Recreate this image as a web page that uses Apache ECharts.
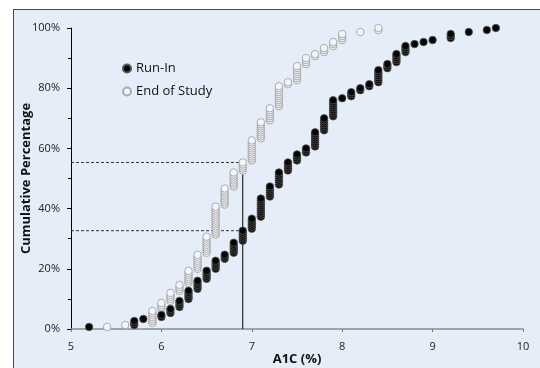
<!DOCTYPE html>
<html>
<head>
<meta charset="utf-8">
<script src="https://cdn.jsdelivr.net/npm/echarts@6/dist/echarts.min.js"></script>
<style>
  html, body { margin: 0; padding: 0; background: #fff; }
  #panel {
    position: absolute; left: 13px; top: 9px; width: 540px; height: 370px;
    background: #e5eef8; border-left: 1px solid #4a4a4a; border-top: 1px solid #4a4a4a;
  }
  #chart { position: absolute; left: 0; top: 0; width: 540px; height: 368px; }
</style>
</head>
<body>
<div id="panel"></div>
<div id="chart"></div>
<script>
// A1C 值与每个值上的人数
const runInA1c = [5.2, 5.7, 5.8, 6.0, 6.1, 6.2, 6.3, 6.4, 6.5, 6.6, 6.7, 6.8, 6.9, 7.0, 7.1, 7.2, 7.3, 7.4, 7.5, 7.6,
  7.7, 7.8, 7.9, 8.0, 8.1, 8.2, 8.3, 8.4, 8.5, 8.6, 8.7, 8.8, 8.9, 9.0, 9.2, 9.4, 9.6, 9.7]
const runInCount = [1, 3, 1, 2, 3, 4, 5, 5, 5, 5, 3, 6, 6, 6, 10, 6, 7, 5, 4, 3,
  8, 7, 9, 1, 3, 2, 2, 7, 3, 5, 4, 1, 1, 1, 3, 1, 1, 1]

const endA1c = [5.4, 5.6, 5.9, 6.0, 6.1, 6.2, 6.3, 6.4, 6.5, 6.6, 6.7, 6.8, 6.9, 7.0, 7.1, 7.2, 7.3, 7.4, 7.5, 7.6,
  7.7, 7.8, 7.9, 8.0, 8.2, 8.4]
const endCount = [1, 1, 7, 4, 5, 4, 7, 8, 9, 15, 9, 8, 5, 11, 9, 7, 11, 2, 8, 4,
  2, 3, 3, 4, 1, 2]

const seriesNames = ['Run-In', 'End of Study']
const cutoff = 6.9
const xTicks = [5, 6, 7, 8, 9, 10]
const yTicks = [0, 20, 40, 60, 80, 100]

// 累积百分比（经验分布）
const cumulative = (values, counts) => {
  const total = counts.reduce((a, b) => a + b, 0)
  const pts = []
  let rank = 0
  values.forEach((v, i) => {
    for (let k = 0; k < counts[i]; k++) {
      rank++
      pts.push([v, rank / total * 100])
    }
  })
  return pts
}
const pctAt = (pts, x) => {
  let p = 0
  pts.forEach(d => { if (d[0] <= x) p = Math.max(p, d[1]) })
  return p
}

const runInPts = cumulative(runInA1c, runInCount)
const endPts = cumulative(endA1c, endCount)
const runInCut = pctAt(runInPts, cutoff)
const endCut = pctAt(endPts, cutoff)

const font = '"Open Sans", "DejaVu Sans", sans-serif'
const chart = echarts.init(document.getElementById('chart'))

const option = {
  backgroundColor: 'transparent',
  animation: false,
  textStyle: { fontFamily: font },
  grid: { left: 71, right: 17, top: 28, bottom: 39, outerBoundsMode: 'none' },
  legend: {
    data: seriesNames,
    orient: 'vertical',
    left: 117,
    top: 57,
    itemWidth: 8,
    itemHeight: 8,
    itemGap: 10,
    textStyle: { fontFamily: font, fontSize: 13, color: '#111', padding: [0, 0, 0, 0] }
  },
  xAxis: {
    type: 'value',
    min: xTicks[0],
    max: xTicks[xTicks.length - 1],
    interval: 1,
    name: 'A1C (%)',
    nameLocation: 'middle',
    nameGap: 24,
    nameMoveOverlap: false,
    nameTextStyle: { fontFamily: font, fontSize: 13, fontWeight: 'bold', color: '#111' },
    splitLine: { show: false },
    axisLine: { lineStyle: { color: '#8a8a8a', width: 1.5 } },
    axisTick: { show: true, length: 3, lineStyle: { color: '#777' } },
    axisLabel: { margin: 12, fontSize: 11, color: '#222', fontFamily: font }
  },
  yAxis: {
    type: 'value',
    min: yTicks[0],
    max: yTicks[yTicks.length - 1],
    interval: 20,
    name: 'Cumulative Percentage',
    nameLocation: 'middle',
    nameGap: 38,
    nameMoveOverlap: false,
    nameTextStyle: { fontFamily: font, fontSize: 13, fontWeight: 'bold', color: '#111' },
    splitLine: { show: false },
    axisLine: { show: true, lineStyle: { color: '#000', width: 1 } },
    axisTick: { show: true, length: 4, lineStyle: { color: '#000' } },
    minorTick: { show: true, splitNumber: 2, length: 3, lineStyle: { color: '#000' } },
    axisLabel: { margin: 11, fontSize: 11, color: '#222', fontFamily: font, formatter: '{value}%' }
  },
  series: [
    {
      name: 'refH1',
      type: 'line',
      silent: true,
      symbol: 'none',
      z: 1,
      lineStyle: { color: '#333', width: 1, type: [3, 2] },
      data: [[xTicks[0], endCut], [cutoff, endCut]]
    },
    {
      name: 'refH2',
      type: 'line',
      silent: true,
      symbol: 'none',
      z: 1,
      lineStyle: { color: '#333', width: 1, type: [3, 2] },
      data: [[xTicks[0], runInCut], [cutoff, runInCut]]
    },
    {
      name: 'refV',
      type: 'line',
      silent: true,
      symbol: 'none',
      z: 1,
      lineStyle: { color: '#000', width: 1 },
      data: [[cutoff, 0], [cutoff, endCut]]
    },
    {
      name: seriesNames[0],
      type: 'scatter',
      symbol: 'circle',
      symbolSize: 7.5,
      z: 3,
      itemStyle: { color: '#050505', borderColor: '#555', borderWidth: 0.8, opacity: 1 },
      data: runInPts
    },
    {
      name: seriesNames[1],
      type: 'scatter',
      symbol: 'circle',
      symbolSize: 7.5,
      z: 2,
      itemStyle: { color: '#f3f7fc', borderColor: '#aaa', borderWidth: 1, opacity: 1 },
      data: endPts
    }
  ]
}

chart.setOption(option)
</script>
</body>
</html>
